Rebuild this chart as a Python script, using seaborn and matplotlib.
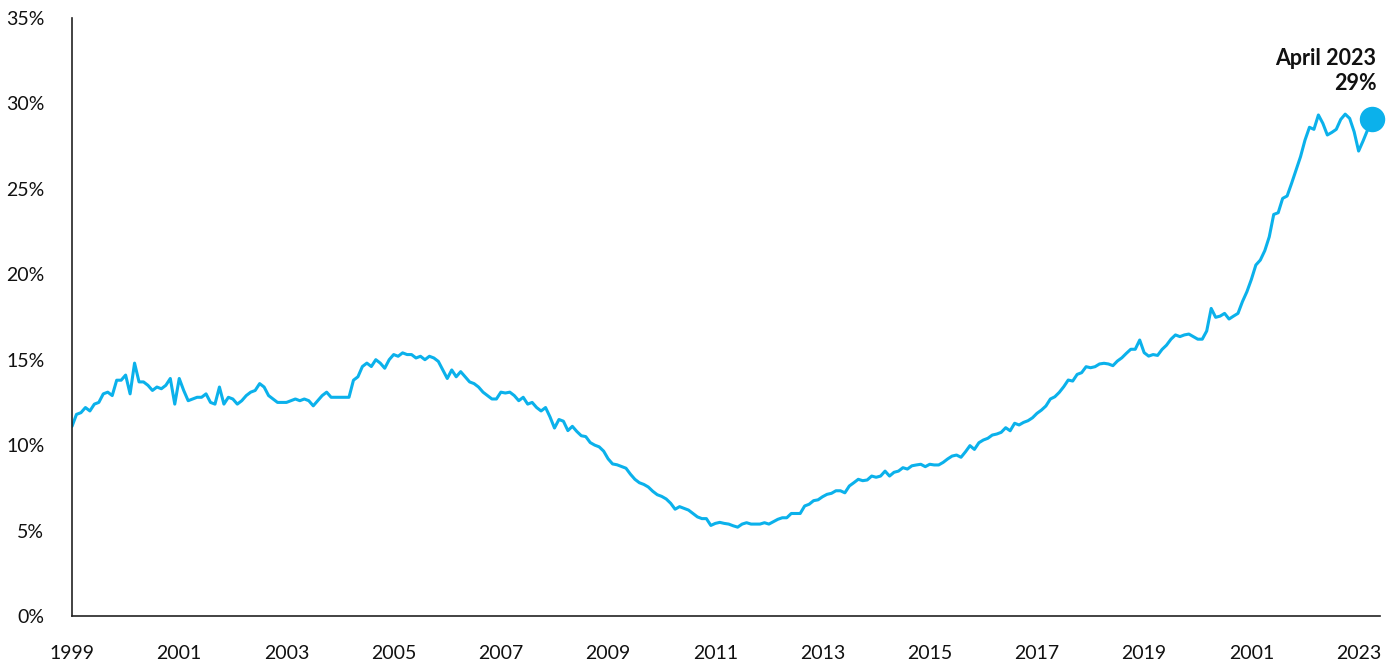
import pandas as pd
import numpy as np
import matplotlib
matplotlib.use("Agg")
import matplotlib.pyplot as plt
import seaborn as sns

# monthly share (%), Jan 1999 .. Apr 2023
y1999 = [11.1, 11.8, 11.9, 12.2, 12.0, 12.4, 12.5, 13.0, 13.1, 12.9, 13.8, 13.8]
y2000 = [14.1, 13.0, 14.8, 13.7, 13.7, 13.5, 13.2, 13.4, 13.3, 13.5, 13.9, 12.4]
y2001 = [13.9, 13.2, 12.6, 12.7, 12.8, 12.8, 13.0, 12.5, 12.4, 13.4, 12.4, 12.8]
y2002 = [12.7, 12.4, 12.6, 12.9, 13.1, 13.2, 13.6, 13.4, 12.9, 12.7, 12.5, 12.5]
y2003 = [12.5, 12.6, 12.7, 12.6, 12.7, 12.6, 12.3, 12.6, 12.9, 13.1, 12.8, 12.8]
y2004 = [12.8, 12.8, 12.8, 13.8, 14.0, 14.6, 14.8, 14.6, 15.0, 14.8, 14.5, 15.0]
y2005 = [15.3, 15.2, 15.4, 15.3, 15.3, 15.1, 15.2, 15.0, 15.2, 15.1, 14.9, 14.4]
y2006 = [13.9, 14.4, 14.0, 14.3, 14.0, 13.7, 13.6, 13.4, 13.1, 12.9, 12.7, 12.7]
y2007 = [13.1, 13.05, 13.1, 12.9, 12.6, 12.8, 12.4, 12.5, 12.2, 12.0, 12.2, 11.65]
y2008 = [11.0, 11.5, 11.4, 10.85, 11.1, 10.8, 10.55, 10.5, 10.15, 10.0, 9.9, 9.65]
y2009 = [9.2, 8.9, 8.85, 8.75, 8.65, 8.3, 8.0, 7.8, 7.7, 7.55, 7.3, 7.1]
y2010 = [7.0, 6.85, 6.6, 6.25, 6.4, 6.3, 6.2, 6.0, 5.8, 5.7, 5.7, 5.3]
y2011 = [5.42, 5.48, 5.42, 5.38, 5.28, 5.2, 5.38, 5.46, 5.38, 5.38, 5.38, 5.46]
y2012 = [5.38, 5.52, 5.66, 5.75, 5.75, 6.0, 6.0, 6.0, 6.44, 6.54, 6.75, 6.8]
y2013 = [6.98, 7.12, 7.18, 7.33, 7.33, 7.21, 7.61, 7.8, 8.0, 7.92, 7.96, 8.19]
y2014 = [8.12, 8.19, 8.48, 8.19, 8.41, 8.48, 8.68, 8.6, 8.79, 8.84, 8.88, 8.74]
y2015 = [8.88, 8.84, 8.84, 8.99, 9.19, 9.36, 9.42, 9.29, 9.61, 9.97, 9.75, 10.14]
y2016 = [10.3, 10.4, 10.59, 10.65, 10.75, 11.02, 10.84, 11.28, 11.18, 11.33, 11.43, 11.6]
y2017 = [11.86, 12.05, 12.29, 12.7, 12.83, 13.09, 13.42, 13.81, 13.75, 14.14, 14.24, 14.59]
y2018 = [14.53, 14.59, 14.75, 14.79, 14.75, 14.65, 14.92, 15.11, 15.37, 15.61, 15.61, 16.15]
y2019 = [15.41, 15.21, 15.3, 15.25, 15.6, 15.85, 16.2, 16.45, 16.35, 16.45, 16.5, 16.35]
y2020 = [16.2, 16.2, 16.68, 18.0, 17.48, 17.55, 17.71, 17.38, 17.55, 17.71, 18.4, 18.98]
y2021 = [19.7, 20.54, 20.83, 21.38, 22.19, 23.5, 23.6, 24.44, 24.58, 25.32, 26.1, 26.88]
y2022 = [27.85, 28.6, 28.48, 29.32, 28.83, 28.15, 28.3, 28.48, 29.06, 29.37, 29.12, 28.34]
y2023 = [27.21, 27.8, 28.44, 29.06]

tick_years = [1999, 2001, 2003, 2005, 2007, 2009, 2011, 2013, 2015, 2017, 2019, 2021, 2023]
tick_labels = ["1999", "2001", "2003", "2005", "2007", "2009", "2011",
               "2013", "2015", "2017", "2019", "2001", "2023"]
y_ticks = [0, 5, 10, 15, 20, 25, 30, 35]

values = (y1999 + y2000 + y2001 + y2002 + y2003 + y2004 + y2005 + y2006 + y2007
          + y2008 + y2009 + y2010 + y2011 + y2012 + y2013 + y2014 + y2015 + y2016
          + y2017 + y2018 + y2019 + y2020 + y2021 + y2022 + y2023)
dates = pd.date_range("1999-01-01", periods=len(values), freq="MS")
df = pd.DataFrame({"date": dates, "share": values})
df["year"] = df["date"].dt.year + (df["date"].dt.month - 1) / 12

blue = "#0BB1EB"

sns.set_style("white")
plt.rcParams["font.family"] = ["Lato", "DejaVu Sans"]

fig = plt.figure(figsize=(13.93, 6.69), dpi=100)
ax = fig.add_axes([0.0517, 0.0792, 0.939, 0.894])

sns.lineplot(data=df, x="year", y="share", color=blue, linewidth=2.2, ax=ax)

last = df.iloc[-1]
ax.scatter([last["year"]], [last["share"]], s=300, color=blue, zorder=5, clip_on=False)
ax.text(last["year"] + 0.08, 30.55, "April 2023\n29%", ha="right", va="bottom",
        fontsize=15.5, fontweight="bold", color="#111111", linespacing=1.25)

ax.set_xlim(1999, 2023.4)
ax.set_ylim(0, 35)
ax.set_xticks(tick_years)
ax.set_xticklabels(tick_labels)
ax.set_yticks(y_ticks)
ax.set_yticklabels([f"{v}%" for v in y_ticks])
ax.set_xlabel("")
ax.set_ylabel("")

sns.despine(ax=ax)
for s in ["left", "bottom"]:
    ax.spines[s].set_color("#222222")
    ax.spines[s].set_linewidth(1.2)
ax.tick_params(axis="both", direction="out", length=6, width=1.2, color="#222222",
               labelsize=14, labelcolor="#111111")
ax.tick_params(axis="x", pad=15)
ax.tick_params(axis="y", pad=14)

fig.savefig("out.png", dpi=100)
